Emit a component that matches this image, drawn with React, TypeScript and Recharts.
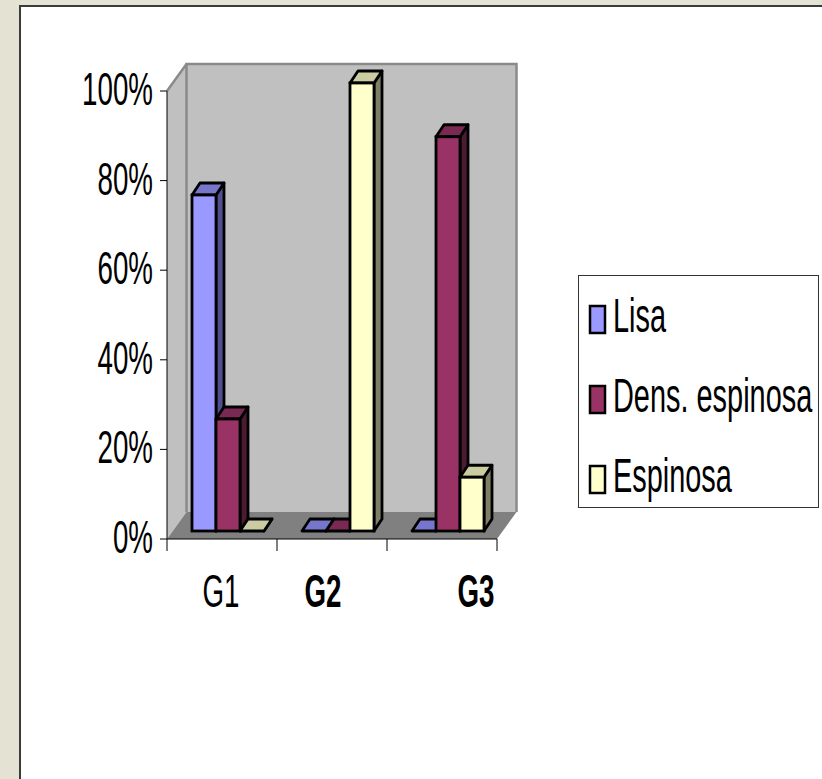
import React from 'react';
import { BarChart, Bar, XAxis, YAxis, Legend, ReferenceArea } from 'recharts';

// ---------- data ----------
const categories = ['G1', 'G2', 'G3'];
const lisa = [75, 0, 0];
const densEspinosa = [25, 0, 88];
const espinosa = [0, 100, 12];
const seriesNames = ['Lisa', 'Dens. espinosa', 'Espinosa'];
const yTicks = [0, 20, 40, 60, 80, 100];
const boldCategory = [false, true, true];

const data = categories.map((name, i) => ({
  name,
  lisa: lisa[i],
  dens: densEspinosa[i],
  esp: espinosa[i],
}));

// ---------- styles ----------
const FONT = "'Liberation Sans', Arial, Helvetica, sans-serif";
const SERIES_STYLE = [
  { key: 'lisa', front: '#9999FF', top: '#7676CC', side: '#50508E' },
  { key: 'dens', front: '#993366', top: '#7A2952', side: '#4D1A33' },
  { key: 'esp', front: '#FFFFCC', top: '#CCCCA3', side: '#808066' },
];
const LABEL_SHIFT = [-1, -9, 34];
const BAR_SHIFT_X = 6;
const BAR_SHIFT_Y = -8;
const BAR_DEPTH_X = 8;
const BAR_DEPTH_Y = 12;
const WALL_DX = 19.5;
const WALL_DY = 27;

function Bar3D(props: any) {
  const { x, y, width, height, colors } = props;
  if (x == null || y == null) return null;
  const h = Math.max(0, height || 0);
  const X = x + BAR_SHIFT_X;
  const Y = y + BAR_SHIFT_Y;
  const W = width;
  const dx = BAR_DEPTH_X;
  const dy = BAR_DEPTH_Y;
  const sw = 2.8;
  return (
    <g>
      <polygon
        points={`${X + W},${Y} ${X + W + dx},${Y - dy} ${X + W + dx},${Y + h - dy} ${X + W},${Y + h}`}
        fill={colors.side}
        stroke="#000"
        strokeWidth={sw}
        strokeLinejoin="round"
      />
      <polygon
        points={`${X},${Y} ${X + dx},${Y - dy} ${X + W + dx},${Y - dy} ${X + W},${Y}`}
        fill={colors.top}
        stroke="#000"
        strokeWidth={sw}
        strokeLinejoin="round"
      />
      <rect x={X} y={Y} width={W} height={h} fill={colors.front} stroke="#000" strokeWidth={sw} />
    </g>
  );
}

function Walls(props: any) {
  const { x, y, width, height } = props;
  if (x == null) return null;
  const L = x;
  const T = y;
  const R = x + width;
  const B = y + height;
  const dx = WALL_DX;
  const dy = WALL_DY;
  return (
    <g>
      <rect x={L + dx} y={T - dy} width={R - L} height={B - T} fill="#C0C0C0" />
      <polygon points={`${L},${T} ${L + dx},${T - dy} ${L + dx},${B - dy} ${L},${B}`} fill="#C0C0C0" />
      <polygon points={`${L},${B} ${R},${B} ${R + dx},${B - dy} ${L + dx},${B - dy}`} fill="#808080" />
      <polyline
        points={`${L + dx},${B - dy} ${L + dx},${T - dy} ${R + dx},${T - dy} ${R + dx},${B - dy}`}
        fill="none"
        stroke="#8A8A8A"
        strokeWidth={2.5}
      />
      <line x1={L} y1={T} x2={L + dx} y2={T - dy} stroke="#8A8A8A" strokeWidth={2.5} />
    </g>
  );
}

function PctTick(props: any) {
  const { x, y, payload } = props;
  return (
    <text
      transform={`translate(${x},${y + 14}) scale(0.59,1)`}
      textAnchor="end"
      fontFamily={FONT}
      fontSize={47}
      fill="#000"
    >
      {`${payload.value}%`}
    </text>
  );
}

function CatTick(props: any) {
  const { x, y, payload, index } = props;
  const i = payload?.index ?? index ?? 0;
  const half = payload?.offset ?? 55;
  return (
    <g>
      <line x1={x - half} y1={y} x2={x - half} y2={y + 12} stroke="#000" strokeWidth={1} />
      {i === categories.length - 1 && (
        <line x1={x + half} y1={y} x2={x + half} y2={y + 12} stroke="#000" strokeWidth={1} />
      )}
      <text
        transform={`translate(${x + LABEL_SHIFT[i]},${y + 68}) scale(0.59,1)`}
        textAnchor="middle"
        fontFamily={FONT}
        fontSize={47}
        fontWeight={boldCategory[i] ? 'bold' : 'normal'}
        fill="#000"
      >
        {payload.value}
      </text>
    </g>
  );
}

function LegendBox(props: any) {
  const raw = props.payload || [];
  const payload = [...raw].sort(
    (a: any, b: any) => seriesNames.indexOf(a.value) - seriesNames.indexOf(b.value)
  );
  return (
    <svg width={241} height={233} style={{ display: 'block' }}>
      <rect x={0.5} y={0.5} width={240} height={232} fill="#fff" stroke="#333" strokeWidth={1} />
      {payload.map((e: any, i: number) => (
        <g key={i} transform={`translate(0,${i * 80})`}>
          <rect x={12} y={31} width={15} height={27} fill={e.color} stroke="#000" strokeWidth={2.5} />
          <text
            transform="translate(35,57) scale(0.59,1)"
            fontFamily={FONT}
            fontSize={49}
            fill="#000"
          >
            {e.value}
          </text>
        </g>
      ))}
    </svg>
  );
}

export default function App() {
  return (
    <div
      style={{
        position: 'absolute',
        left: 0,
        top: 0,
        width: 822,
        height: 779,
        background: '#E4E2D2',
        overflow: 'hidden',
      }}
    >
      <div
        style={{
          position: 'absolute',
          left: 19,
          top: 5,
          width: 822,
          height: 800,
          background: '#FFFFFF',
          borderLeft: '2px solid #3a3a3a',
          borderTop: '2px solid #3a3a3a',
        }}
      />
      <div style={{ position: 'absolute', left: 0, top: 0 }}>
        <BarChart
          width={822}
          height={779}
          data={data}
          margin={{ top: 91, right: 325, bottom: 180, left: 0 }}
          barGap={0}
          barSize={24}
        >
          <ReferenceArea y1={0} y2={100} ifOverflow="visible" shape={(p: any) => <Walls {...p} />} />
          <XAxis
            dataKey="name"
            height={60}
            interval={0}
            axisLine={{ stroke: '#000', strokeWidth: 1 }}
            tickLine={false}
            tickSize={0}
            tickMargin={0}
            tick={(p: any) => <CatTick {...p} />}
          />
          <YAxis
            type="number"
            domain={[0, 100]}
            ticks={yTicks}
            interval={0}
            width={167}
            tickSize={7}
            tickMargin={7}
            axisLine={{ stroke: '#000', strokeWidth: 1 }}
            tickLine={{ stroke: '#000', strokeWidth: 1 }}
            tick={(p: any) => <PctTick {...p} />}
          />
          <Legend
            layout="vertical"
            align="center"
            verticalAlign="middle"
            content={(p: any) => <LegendBox {...p} />}
            wrapperStyle={{ position: 'absolute', left: 578, top: 275, width: 241, height: 233, margin: 0, padding: 0 }}
          />
          {SERIES_STYLE.map((s, i) => (
            <Bar
              key={s.key}
              dataKey={s.key}
              name={seriesNames[i]}
              fill={s.front}
              isAnimationActive={false}
              shape={(p: any) => <Bar3D {...p} colors={s} />}
            />
          ))}
        </BarChart>
      </div>
    </div>
  );
}
